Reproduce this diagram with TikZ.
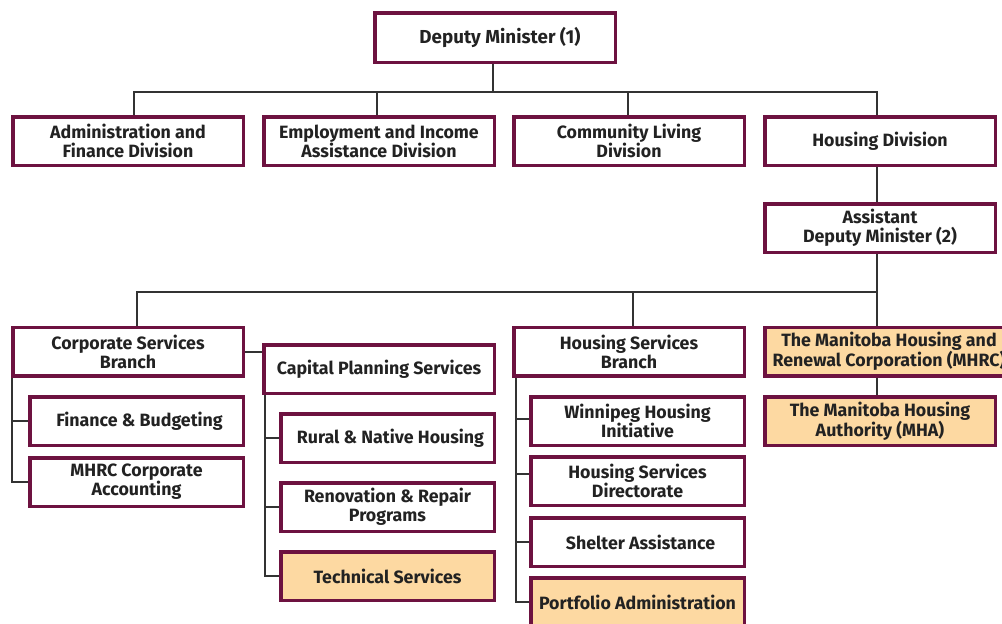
\documentclass[tikz,border=0pt]{standalone}
\usepackage{fontspec}
\setmainfont{Fira Sans}
\usetikzlibrary{backgrounds}
\definecolor{boxline}{HTML}{6D1240}
\definecolor{boxfill}{HTML}{FDD9A2}
\definecolor{conline}{HTML}{333333}
\definecolor{txt}{HTML}{222222}
\tikzset{
  unit/.style={draw=boxline, line width=3.5pt, fill=white, align=center,
    inner sep=0pt, text=txt, font=\fontsize{17.8}{19}\selectfont\bfseries,
    minimum width=230.5pt, minimum height=48.5pt},
  sub/.style={unit, minimum width=213.5pt},
  agency/.style={fill=boxfill},
  con/.style={draw=conline, line width=1.8pt}
}
\begin{document}
\begin{tikzpicture}[x=1pt,y=-1pt]
\useasboundingbox (0,0) rectangle (1002,624);
\clip (0,0) rectangle (1002,624);
% top level
\node[unit, minimum width=240.5pt, minimum height=49.5pt,
  font=\fontsize{18.8}{20}\selectfont\bfseries] (dm) at (495,37.5) {\hspace*{10pt}Deputy Minister (1)};
% divisions
\node[unit] (adm) at (128,141) {Administration and\\Finance Division};
\node[unit] (emp) at (379,141) {Employment and Income\\Assistance Division};
\node[unit] (com) at (629,141) {Community Living\\Division};
\node[unit] (hd)  at (880,141) {Housing Division};
\node[unit] (adm2) at (880,228) {Assistant\\Deputy Minister (2)};
% branches
\node[unit] (csb) at (128,351.5) {Corporate Services\\Branch};
\node[unit] (cps) at (379,369) {Capital Planning Services};
\node[unit] (hsb) at (629,351.5) {Housing Services\\Branch};
\node[unit, agency, minimum width=248.5pt] (mhrc) at (889,351.5) {The Manitoba Housing and\\Renewal Corporation (MHRC)};
\node[unit, agency] (mha) at (880,421) {The Manitoba Housing\\Authority (MHA)};
% corporate services
\node[sub] (fb)  at (136.5,421) {\hspace*{6pt}Finance \& Budgeting};
\node[sub] (mca) at (136.5,482) {MHRC Corporate\\Accounting};
% capital planning
\node[sub] (rnh) at (387.5,438) {\hspace*{6pt}Rural \& Native Housing};
\node[sub] (rrp) at (387.5,507) {Renovation \& Repair\\Programs};
\node[sub, agency] (ts) at (387.5,576) {Technical Services};
% housing services
\node[sub] (whi) at (637.5,421) {Winnipeg Housing\\Initiative};
\node[sub] (hsd) at (637.5,481) {Housing Services\\Directorate};
\node[sub] (sa)  at (637.5,542) {\hspace*{6pt}Shelter Assistance};
\node[sub, agency] (pa) at (637.5,602) {Portfolio Administration};
\begin{scope}[on background layer]
  % deputy minister to divisions
  \coordinate (bus1) at (493,92);
  \draw[con] ([xshift=-2pt]dm.south) -- (bus1);
  \draw[con] ([xshift=6pt]adm.north) -- ([xshift=6pt]adm.north |- bus1)
    -- ([xshift=-3pt]hd.north |- bus1) -- ([xshift=-3pt]hd.north);
  \draw[con] ([xshift=-2pt]emp.north) -- ([xshift=-2pt]emp.north |- bus1);
  \draw[con] ([xshift=-1pt]com.north) -- ([xshift=-1pt]com.north |- bus1);
  % housing division chain
  \draw[con] ([xshift=-3pt]hd.south) -- ([xshift=-3pt]adm2.north);
  \coordinate (bus2) at (877,292);
  \draw[con] ([xshift=-3pt]adm2.south) -- ([xshift=-3pt]mhrc.north -| adm2.south);
  \draw[con] ([xshift=9pt]csb.north) -- ([xshift=9pt]csb.north |- bus2) -- (bus2);
  \draw[con] ([xshift=4pt]hsb.north) -- ([xshift=4pt]hsb.north |- bus2);
  \draw[con] ([xshift=-3pt]mha.north) -- ([xshift=-3pt]mha.north |- mhrc.south);
  % corporate services
  \draw[con] (csb.east |- 0,352) -- (cps.west |- 0,352);
  \draw[con] ([xshift=1pt]csb.south west) -- ([xshift=1pt]csb.south west |- mca.west) -- (mca.west);
  \draw[con] (fb.west) -- (fb.west -| 12,0);
  % capital planning
  \draw[con] ([xshift=3pt]cps.south west) -- ([xshift=3pt]cps.south west |- ts.west) -- (ts.west);
  \draw[con] (rnh.west) -- (rnh.west -| 265,0);
  \draw[con] (rrp.west) -- (rrp.west -| 265,0);
  % housing services
  \draw[con] ([xshift=4pt]hsb.south west) -- ([xshift=4pt]hsb.south west |- pa.west) -- (pa.west);
  \draw[con] ([yshift=2pt]whi.west) -- ([yshift=2pt]whi.west -| 516,0);
  \draw[con] ([yshift=7pt]hsd.west) -- ([yshift=7pt]hsd.west -| 516,0);
  \draw[con] (sa.west) -- (sa.west -| 516,0);
\end{scope}
\end{tikzpicture}
\end{document}
